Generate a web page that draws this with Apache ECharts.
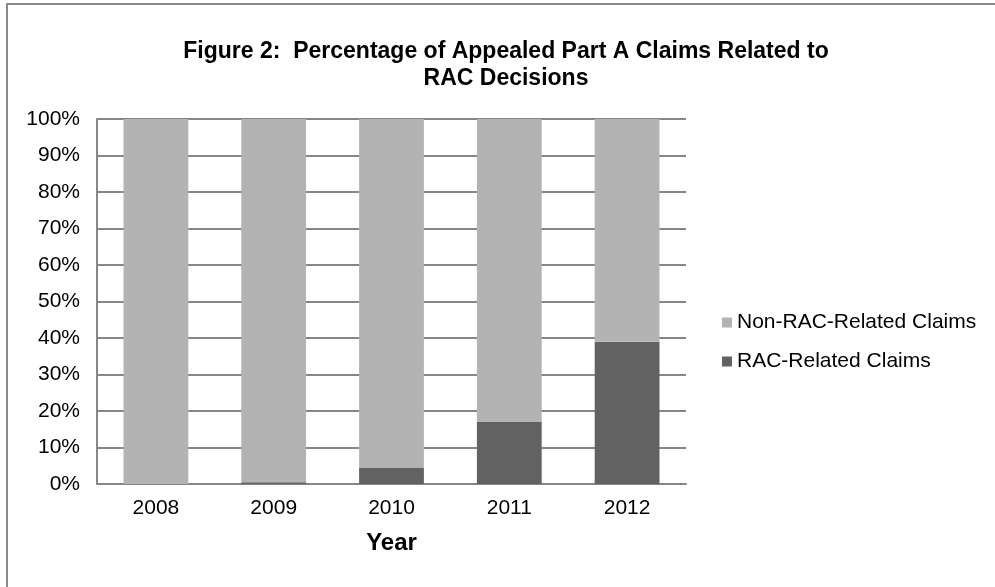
<!DOCTYPE html>
<html><head><meta charset="utf-8">
<script src="https://cdn.jsdelivr.net/npm/echarts@6/dist/echarts.min.js"></script>
<style>html,body{margin:0;padding:0;background:#fff}#c{width:995px;height:587px}</style>
</head><body><div id="c"></div>
<script>
const years = ['2008','2009','2010','2011','2012'];
const racRelated = [0, 0.5, 4.5, 17, 39];
const nonRacRelated = [100, 99.5, 95.5, 83, 61];
const yTicks = [0,10,20,30,40,50,60,70,80,90,100];

const chart = echarts.init(document.getElementById('c'));
const font = 'Arial, "Liberation Sans", sans-serif';
chart.setOption({
  animation: false,
  graphic: [{type:'rect', shape:{x:7, y:4, width:1100, height:1100}, style:{fill:'none', stroke:'#8a8a8a', lineWidth:2}, silent:true}],
  title: {
    text: 'Figure 2:  Percentage of Appealed Part A Claims Related to\nRAC Decisions',
    left: 501, top: 33, textAlign: 'center',
    textStyle: {fontFamily: font, fontWeight: 'bold', fontSize: 23, color: '#000', lineHeight: 27}
  },
  legend: {
    orient: 'vertical', left: 717, top: 307, itemGap: 18,
    itemWidth: 10, itemHeight: 10, icon: 'rect',
    data: ['Non-RAC-Related Claims', 'RAC-Related Claims'],
    textStyle: {fontFamily: font, fontSize: 21, color: '#000'}
  },
  grid: {left: 97, right: 309, top: 119, bottom: 103, containLabel: false},
  xAxis: {
    type: 'category', data: years,
    name: 'Year', nameLocation: 'middle', nameGap: 47,
    nameTextStyle: {fontFamily: font, fontWeight: 'bold', fontSize: 24, color: '#000'},
    axisLine: {lineStyle: {color: '#868686', width: 2}},
    axisTick: {show: false},
    axisLabel: {fontFamily: font, fontSize: 21, color: '#000', margin: 14}
  },
  yAxis: {
    type: 'value', min: 0, max: 100, interval: 10,
    axisLine: {show: true, lineStyle: {color: '#868686', width: 2}},
    axisTick: {show: false},
    splitLine: {lineStyle: {color: '#868686', width: 2}},
    axisLabel: {fontFamily: font, fontSize: 21, color: '#000', margin: 17,
      formatter: v => yTicks.includes(v) ? v + '%' : ''}
  },
  series: [
    {name: 'RAC-Related Claims', type: 'bar', stack: 'a', data: racRelated, barWidth: '55%', itemStyle: {color: '#626262'}},
    {name: 'Non-RAC-Related Claims', type: 'bar', stack: 'a', data: nonRacRelated, barWidth: '55%', itemStyle: {color: '#b3b3b3'}}
  ]
});
</script></body></html>
